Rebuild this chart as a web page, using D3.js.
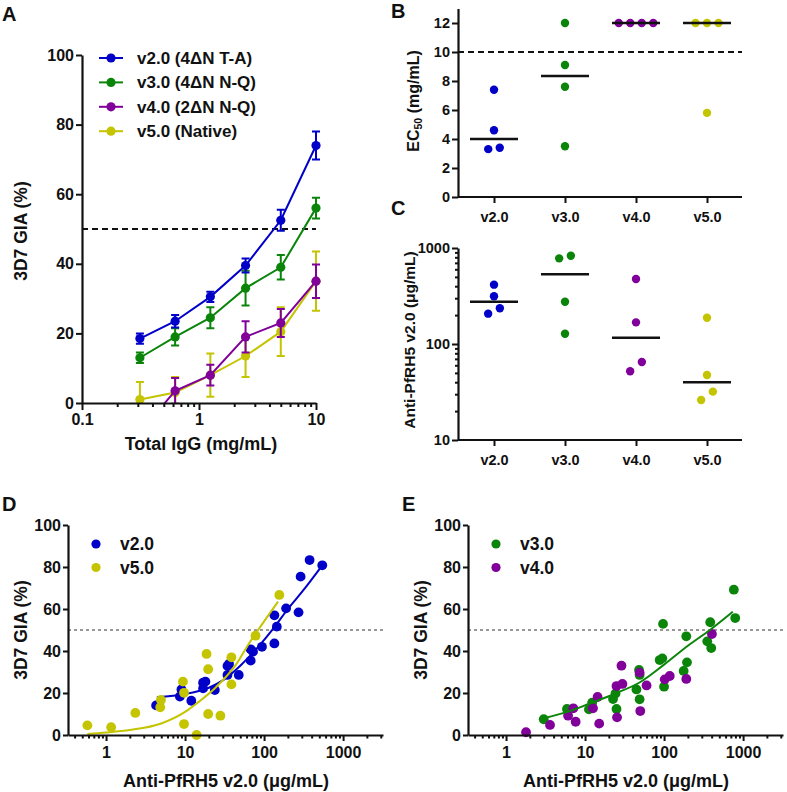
<!DOCTYPE html>
<html><head><meta charset="utf-8">
<script src="https://cdn.jsdelivr.net/npm/d3@7"></script>
<style>
body{margin:0;background:#fff}
svg text{font-family:"Liberation Sans",Arial,Helvetica,sans-serif;font-weight:bold;fill:#111}
</style>
</head><body>
<svg id="c" width="787" height="792"></svg>
<script>
// ---------- DATA ----------
const seriesNames = ["v2.0 (4ΔN T-A)", "v3.0 (4ΔN N-Q)", "v4.0 (2ΔN N-Q)", "v5.0 (Native)"];
const seriesColors = ["#0000c8", "#0a850a", "#800099", "#c4c400"];
const concentrations = [0.3125, 0.625, 1.25, 2.5, 5, 10];
const giaV2 = [18.5, 23.5, 30.5, 39.5, 52.5, 74];
const errV2 = [1.5, 1.8, 1.5, 2, 3, 4];
const giaV3 = [13, 19, 24.5, 33, 39, 56];
const errV3 = [1.5, 2.5, 3, 5, 3.5, 3];
const giaV4 = [-8.5, 3.5, 8, 19, 23, 35];
const errV4 = [4, 3.7, 3, 4.5, 4, 4.8];
const giaV5 = [1, 3, 8, 13.5, 20.5, 35];
const errV5 = [5, 4.5, 6.2, 6, 7, 8.5];
const xTicksA = [0.1, 1, 10];
const yTicksGIA = [0, 20, 40, 60, 80, 100];

const categories = ["v2.0", "v3.0", "v4.0", "v5.0"];
const ec50V2 = [7.4, 4.6, 3.3, 3.4];
const ec50V3 = [12, 9.1, 7.6, 3.5];
const ec50V4 = [12, 12, 12, 12];
const ec50V5 = [12, 12, 12, 5.8];
const ec50Medians = [4.0, 8.35, 12, 12];
const yTicksB = [0, 2, 4, 6, 8, 10, 12];

const antiV2 = [415, 314, 207, 236];
const antiV3 = [780, 831, 275, 128];
const antiV4 = [475, 168, 52, 65];
const antiV5 = [188, 47.5, 31.9, 26.1];
const antiMedians = [275, 532, 116, 40];
const yTicksC = [10, 100, 1000];

const dV2x = [4.3, 8.6, 9.0, 12, 16.9, 18.1, 16.9, 23.8, 34.4, 36, 34.4, 47.8, 67.7, 67.7, 72.5, 94, 135, 135, 145, 190, 273, 290, 377, 545];
const dV2y = [14.1, 18.3, 21.7, 16.3, 24.9, 25.4, 22.2, 21.4, 32.9, 33.8, 28.6, 28.6, 35.4, 40.8, 39.7, 42, 43.6, 57, 51.6, 60.3, 58.4, 75.4, 83.3, 80.8];
const dV5x = [0.58, 1.16, 2.35, 4.85, 4.95, 9.4, 9.7, 9.7, 14, 18.7, 19.6, 19.6, 28, 38.6, 38.6, 78, 156];
const dV5y = [4.6, 3.7, 10.5, 13.2, 16.7, 25.4, 20.1, 5.2, 0, 38.6, 31.3, 10, 9.2, 37, 24.1, 47.3, 66.7];
const fitV2x = [4.4, 10, 20, 30, 50, 80, 136, 200, 300, 545];
const fitV2y = [18, 19.5, 22.5, 26, 33, 41, 51.5, 60, 68, 80.8];
const fitV5x = [0.58, 1, 2, 5, 10, 14, 25, 45, 63, 84, 150];
const fitV5y = [0.5, 1.2, 2.4, 5.5, 11, 15, 23, 34, 43, 50, 63.5];

const eV3x = [3.0, 5.9, 11.2, 12.3, 22.6, 24.3, 25, 48.2, 49, 44.7, 49, 88, 95, 97, 100, 177, 191, 195, 764, 795, 384, 352, 395];
const eV3y = [7.5, 12.4, 12.2, 15.4, 17.1, 19.8, 12.4, 31, 28.6, 21.7, 17, 35.7, 36.5, 52.9, 23, 30.5, 47, 34.6, 69.2, 55.7, 53.7, 44.6, 41.4];
const eV4x = [1.79, 3.6, 6.1, 7.1, 7.6, 12.6, 14.4, 15.1, 25, 29.7, 28.9, 25.4, 49, 50, 60, 102, 118, 191, 403];
const eV4y = [1.3, 4.8, 9.2, 12.7, 6.3, 12.7, 18.1, 5.4, 23.3, 24.3, 33, 8.4, 29.7, 11.4, 23.6, 26.5, 28.1, 26.7, 48.1];
const fitV3x = [3, 6, 11.5, 25, 49, 100, 200, 380, 740];
const fitV3y = [8, 11, 15, 20, 25, 33.5, 42.5, 50, 58.7];
const xTicksDE = [1, 10, 100, 1000];

// ---------- HELPERS ----------
const svg = d3.select("#c");
const BLUE = seriesColors[0], GREEN = seriesColors[1], PURPLE = seriesColors[2], YELLOW = seriesColors[3];

function styleAxis(g, fs) {
  g.select(".domain").attr("stroke", "#111").attr("stroke-width", 2.2);
  g.selectAll(".tick line").attr("stroke", "#111").attr("stroke-width", 2);
  g.selectAll(".tick text").attr("font-size", fs).attr("fill", "#111")
    .attr("font-family", '"Liberation Sans",Arial,sans-serif').attr("font-weight", "bold");
  return g;
}
function minorLog(domain) {
  const out = [];
  const lo = Math.floor(Math.log10(domain[0])), hi = Math.ceil(Math.log10(domain[1]));
  for (let e = lo; e < hi; e++) for (let k = 2; k <= 9; k++) {
    const v = k * Math.pow(10, e);
    if (v >= domain[0] && v <= domain[1]) out.push(v);
  }
  return out;
}
function label(txt, x, y) {
  svg.append("text").attr("x", x).attr("y", y).attr("font-size", 20).text(txt);
}
function vTitle(x, y, fs, build) {
  const t = svg.append("text").attr("transform", `translate(${x},${y}) rotate(-90)`)
    .attr("text-anchor", "middle").attr("font-size", fs);
  build(t);
  return t;
}
function hTitle(txt, x, y, fs) {
  svg.append("text").attr("x", x).attr("y", y).attr("text-anchor", "middle").attr("font-size", fs).text(txt);
}

// ---------- PANEL A ----------
(function () {
  const x = d3.scaleLog().domain([0.1, 10]).range([82, 316]);
  const y = d3.scaleLinear().domain([0, 100]).range([403, 55]);
  const g = svg.append("g");
  svg.append("defs").append("clipPath").attr("id", "clipA").append("rect")
    .attr("x", 82).attr("y", 40).attr("width", 250).attr("height", 363);

  g.append("line").attr("x1", x(0.1)).attr("x2", x(10)).attr("y1", y(50)).attr("y2", y(50))
    .attr("stroke", "#111").attr("stroke-width", 2).attr("stroke-dasharray", "6,4");

  const series = [
    { v: giaV5, e: errV5, c: YELLOW },
    { v: giaV4, e: errV4, c: PURPLE },
    { v: giaV3, e: errV3, c: GREEN },
    { v: giaV2, e: errV2, c: BLUE }
  ];
  const pg = g.append("g").attr("clip-path", "url(#clipA)");
  series.forEach(s => {
    const pts = concentrations.map((c, i) => ({ c, v: s.v[i], e: s.e[i] }));
    const sg = pg.append("g");
    sg.selectAll(".eb").data(pts).join("path")
      .attr("d", d => {
        const cx = x(d.c), t = y(d.v + d.e), b = y(d.v - d.e);
        return `M${cx},${t}V${b}M${cx - 4},${t}H${cx + 4}M${cx - 4},${b}H${cx + 4}`;
      })
      .attr("stroke", s.c).attr("stroke-width", 2).attr("fill", "none");
    sg.append("path").datum(pts)
      .attr("d", d3.line().x(d => x(d.c)).y(d => y(d.v)))
      .attr("stroke", s.c).attr("stroke-width", 2).attr("fill", "none");
    sg.selectAll("circle").data(pts).join("circle")
      .attr("cx", d => x(d.c)).attr("cy", d => y(d.v)).attr("r", 4.6).attr("fill", s.c);
  });

  const ax = g.append("g").attr("transform", "translate(0,403)")
    .call(d3.axisBottom(x).tickValues(xTicksA).tickFormat(d3.format("")).tickSize(7).tickSizeOuter(0).tickPadding(4));
  styleAxis(ax, 16);
  const axm = g.append("g").attr("transform", "translate(0,403)")
    .call(d3.axisBottom(x).tickValues(minorLog([0.1, 10])).tickFormat("").tickSize(4).tickSizeOuter(0));
  styleAxis(axm, 16); axm.select(".domain").remove();
  const ay = g.append("g").attr("transform", "translate(82,0)")
    .call(d3.axisLeft(y).tickValues(yTicksGIA).tickSize(6).tickSizeOuter(0).tickPadding(2));
  styleAxis(ay, 16);

  seriesNames.forEach((n, i) => {
    const ly = 58 + i * 24.4;
    g.append("line").attr("x1", 99).attr("x2", 123).attr("y1", ly).attr("y2", ly)
      .attr("stroke", seriesColors[i]).attr("stroke-width", 2);
    g.append("circle").attr("cx", 111).attr("cy", ly).attr("r", 4.6).attr("fill", seriesColors[i]);
    g.append("text").attr("x", 137).attr("y", ly + 6).attr("font-size", 17).text(n);
  });

  vTitle(27, 231, 17.5, t => t.text("3D7 GIA (%)"));
  hTitle("Total IgG (mg/mL)", 201, 450, 18);
  label("A", 2, 21);
})();

function spread(vals, yScale, cx, step) {
  const pts = vals.map(v => ({ v, py: yScale(v) }));
  const sorted = pts.slice().sort((a, b) => a.py - b.py);
  const groups = [];
  sorted.forEach(p => {
    const last = groups[groups.length - 1];
    if (last && Math.abs(p.py - last[0].py) < 10) last.push(p); else groups.push([p]);
  });
  groups.forEach(gr => {
    gr.sort((a, b) => a.v - b.v);
    gr.forEach((p, i) => { p.px = cx + (i - (gr.length - 1) / 2) * step; });
  });
  return pts;
}

// ---------- PANEL B ----------
(function () {
  const x = d3.scalePoint().domain(categories).range([494, 707]);
  const y = d3.scaleLinear().domain([0, 13]).range([197, 8.5]);
  const g = svg.append("g");
  g.append("line").attr("x1", 458).attr("x2", 742).attr("y1", y(10)).attr("y2", y(10))
    .attr("stroke", "#111").attr("stroke-width", 2).attr("stroke-dasharray", "6,4");
  const data = [ec50V2, ec50V3, ec50V4, ec50V5];
  data.forEach((vals, i) => {
    const pts = spread(vals, y, x(categories[i]), 11.5);
    g.selectAll(null).data(pts).join("circle")
      .attr("cx", d => d.px).attr("cy", d => d.py).attr("r", 4.2).attr("fill", seriesColors[i]);
    g.append("line").attr("x1", x(categories[i]) - 24).attr("x2", x(categories[i]) + 24)
      .attr("y1", y(ec50Medians[i])).attr("y2", y(ec50Medians[i]))
      .attr("stroke", "#111").attr("stroke-width", 2.5);
  });
  const ax = g.append("g").attr("transform", "translate(0,197)")
    .call(d3.axisBottom(x).tickSize(6).tickSizeOuter(0).tickPadding(9));
  styleAxis(ax, 14.5);
  ax.select(".domain").attr("d", "M458,0H742");
  const ay = g.append("g").attr("transform", "translate(458,0)")
    .call(d3.axisLeft(y).tickValues(yTicksB).tickSize(6).tickSizeOuter(0).tickPadding(2));
  styleAxis(ay, 14.5);
  vTitle(419, 101, 16, t => {
    t.append("tspan").text("EC");
    t.append("tspan").attr("font-size", 10.5).attr("dy", 3).text("50");
    t.append("tspan").attr("dy", -3).text(" (mg/mL)");
  });
  label("B", 391, 18);
})();

// ---------- PANEL C ----------
(function () {
  const x = d3.scalePoint().domain(categories).range([494, 707]);
  const y = d3.scaleLog().domain([10, 1000]).range([440, 248]);
  const g = svg.append("g");
  const data = [antiV2, antiV3, antiV4, antiV5];
  data.forEach((vals, i) => {
    const pts = spread(vals, y, x(categories[i]), 11.7);
    g.selectAll(null).data(pts).join("circle")
      .attr("cx", d => d.px).attr("cy", d => d.py).attr("r", 4.2).attr("fill", seriesColors[i]);
    g.append("line").attr("x1", x(categories[i]) - 24).attr("x2", x(categories[i]) + 24)
      .attr("y1", y(antiMedians[i])).attr("y2", y(antiMedians[i]))
      .attr("stroke", "#111").attr("stroke-width", 2.5);
  });
  const ax = g.append("g").attr("transform", "translate(0,440)")
    .call(d3.axisBottom(x).tickSize(6).tickSizeOuter(0).tickPadding(9));
  styleAxis(ax, 14.5);
  ax.select(".domain").attr("d", "M458,0H742");
  const ay = g.append("g").attr("transform", "translate(458,0)")
    .call(d3.axisLeft(y).tickValues(yTicksC).tickFormat(d3.format("")).tickSize(6).tickSizeOuter(0).tickPadding(2));
  styleAxis(ay, 14.5);
  const aym = g.append("g").attr("transform", "translate(458,0)")
    .call(d3.axisLeft(y).tickValues(minorLog([10, 1000])).tickFormat("").tickSize(3).tickSizeOuter(0));
  styleAxis(aym, 14); aym.select(".domain").remove();
  vTitle(415, 340, 15.5, t => t.text("Anti-PfRH5 v2.0 (μg/mL)"));
  label("C", 391, 215);
})();

// ---------- PANELS D & E ----------
function scatterPanel(x0, sets, legend, letter) {
  const x = d3.scaleLog().domain([0.33, 3200]).range([x0, x0 + 315]);
  const y = d3.scaleLinear().domain([0, 100]).range([735, 525]);
  const g = svg.append("g");
  g.append("line").attr("x1", x0).attr("x2", x0 + 315).attr("y1", y(50)).attr("y2", y(50))
    .attr("stroke", "#777").attr("stroke-width", 1.6).attr("stroke-dasharray", "3,3");
  sets.forEach(s => {
    const pts = s.xs.map((v, i) => ({ a: v, b: s.ys[i] }));
    g.append("g").selectAll("circle").data(pts).join("circle")
      .attr("cx", d => x(d.a)).attr("cy", d => y(d.b)).attr("r", 4.9).attr("fill", s.c);
    if (s.fit) {
      const f = s.fit.xs.map((v, i) => ({ a: v, b: s.fit.ys[i] }));
      g.append("path").datum(f)
        .attr("d", d3.line().x(d => x(d.a)).y(d => y(d.b)).curve(d3.curveMonotoneX))
        .attr("stroke", s.c).attr("stroke-width", 2).attr("fill", "none");
    }
  });
  const ax = g.append("g").attr("transform", "translate(0,735)")
    .call(d3.axisBottom(x).tickValues(xTicksDE).tickFormat(d3.format("")).tickSize(6).tickSizeOuter(0).tickPadding(6));
  styleAxis(ax, 16);
  const axm = g.append("g").attr("transform", "translate(0,735)")
    .call(d3.axisBottom(x).tickValues(minorLog([0.33, 3200])).tickFormat("").tickSize(3.5).tickSizeOuter(0));
  styleAxis(axm, 16); axm.select(".domain").remove();
  const ay = g.append("g").attr("transform", `translate(${x0},0)`)
    .call(d3.axisLeft(y).tickValues(yTicksGIA).tickSize(5).tickSizeOuter(0).tickPadding(2));
  styleAxis(ay, 16);
  legend.forEach((l, i) => {
    const ly = 544 + i * 23.5;
    g.append("circle").attr("cx", x0 + 28).attr("cy", ly).attr("r", 4.6).attr("fill", l.c);
    g.append("text").attr("x", x0 + 52).attr("y", ly + 6).attr("font-size", 17.5).text(l.t);
  });
  vTitle(x0 - 41, 630, 17.5, t => t.text("3D7 GIA (%)"));
  hTitle("Anti-PfRH5 v2.0 (μg/mL)", x0 + 158, 787, 18);
  label(letter, x0 - 66, 511);
}
scatterPanel(68,
  [{ xs: dV2x, ys: dV2y, c: BLUE, fit: { xs: fitV2x, ys: fitV2y } },
   { xs: dV5x, ys: dV5y, c: YELLOW, fit: { xs: fitV5x, ys: fitV5y } }],
  [{ t: "v2.0", c: BLUE }, { t: "v5.0", c: YELLOW }], "D");
scatterPanel(468,
  [{ xs: eV3x, ys: eV3y, c: GREEN },
   { xs: eV4x, ys: eV4y, c: PURPLE },
   { xs: [], ys: [], c: GREEN, fit: { xs: fitV3x, ys: fitV3y } }],
  [{ t: "v3.0", c: GREEN }, { t: "v4.0", c: PURPLE }], "E");
</script>
</body></html>
